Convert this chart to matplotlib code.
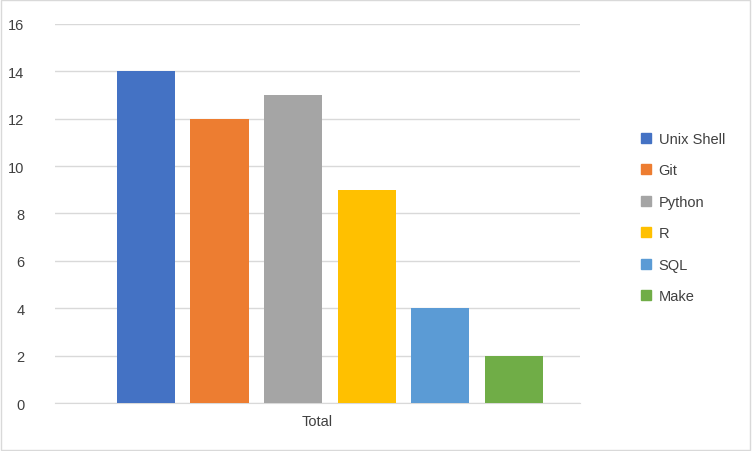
import matplotlib
matplotlib.use("Agg")
import matplotlib.pyplot as plt
from matplotlib.patches import Patch, Rectangle

categories = ["Unix Shell", "Git", "Python", "R", "SQL", "Make"]
values = [14, 12, 13, 9, 4, 2]
colors = ["#4472C4", "#ED7D31", "#A5A5A5", "#FFC000", "#5B9BD5", "#70AD47"]
yticks = [0, 2, 4, 6, 8, 10, 12, 14, 16]

plt.rcParams['font.family'] = ['Liberation Sans', 'DejaVu Sans']
fig = plt.figure(figsize=(7.52, 4.52), dpi=100)
ax = fig.add_axes([0.073, 0.106, 0.698, 0.839])
x = list(range(len(categories)))
ax.bar(x, values, width=0.79, color=colors, zorder=3)
ax.set_ylim(0, 16)
ax.set_xlim(-1.236, 5.897)
ax.set_yticks(yticks)
ax.tick_params(axis='y', length=0, labelsize=10.5, colors='#404040', pad=22)
ax.set_xticks([2.33])
ax.set_xticklabels(["Total"])
ax.tick_params(axis='x', length=0, labelsize=10.5, colors='#404040', pad=8)
ax.grid(axis='y', color='#D9D9D9', linewidth=1, zorder=0)
for s in ['top', 'right', 'left']:
    ax.spines[s].set_visible(False)
ax.spines['bottom'].set_color('#D9D9D9')

handles = [Patch(color=c, label=l) for c, l in zip(colors, categories)]
fig.legend(handles=handles, loc='upper left', bbox_to_anchor=(0.835, 0.735),
           frameon=False, fontsize=10.5, labelspacing=1.2, handlelength=0.7,
           handleheight=0.7, handletextpad=0.5, labelcolor='#404040')
fig.patches.append(Rectangle((0.001, 0.002), 0.997, 0.996, transform=fig.transFigure,
                             fill=False, edgecolor='#D9D9D9', linewidth=1))
fig.savefig("out.png", dpi=100)
